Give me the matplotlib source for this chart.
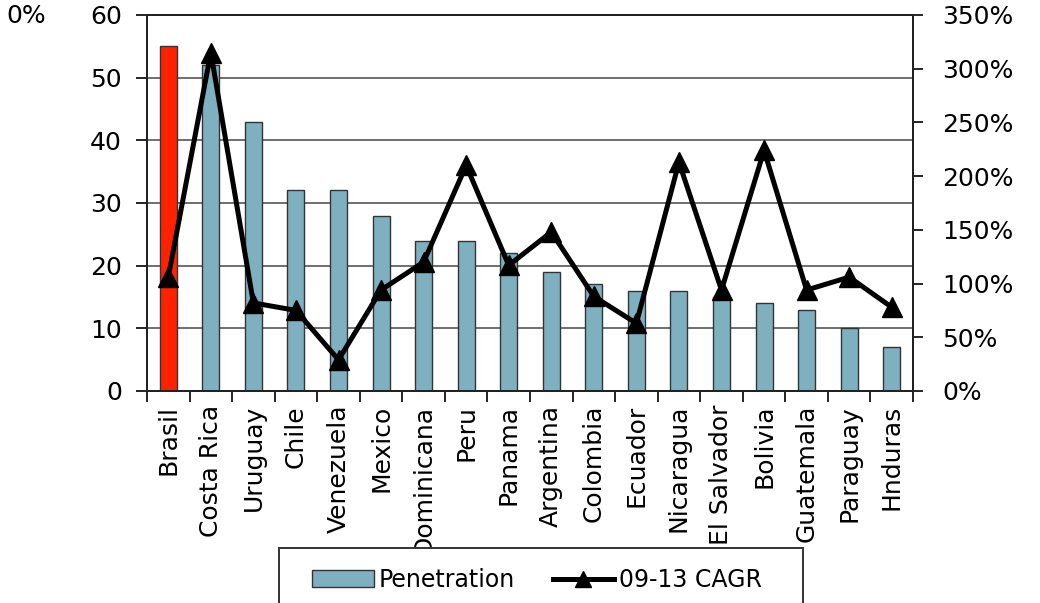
import matplotlib
matplotlib.use("Agg")
import matplotlib.pyplot as plt
from matplotlib.patches import Rectangle
from matplotlib.lines import Line2D
from matplotlib.ticker import FuncFormatter

countries = ["Brasil", "Costa Rica", "Uruguay", "Chile", "Venezuela", "Mexico",
             "Dominicana", "Peru", "Panama", "Argentina", "Colombia", "Ecuador",
             "Nicaragua", "El Salvador", "Bolivia", "Guatemala", "Paraguay", "Hnduras"]
penetration = [55, 52, 43, 32, 32, 28, 24, 24, 22, 19, 17, 16, 16, 15, 14, 13, 10, 7]
cagr = [106, 315, 82, 75, 29, 94, 120, 210, 117, 148, 88, 63, 213, 94, 224, 94, 106, 78]

plt.rcParams["font.family"] = ["DejaVu Sans"]

fig = plt.figure(figsize=(10.4, 6.03), dpi=100)
ax = fig.add_axes([147 / 1040, 1 - 391 / 603, (913 - 147) / 1040, (391 - 15) / 603])

x = list(range(len(countries)))
colors = ["#FF2200"] + ["#7FB0BF"] * (len(countries) - 1)
ax.bar(x, penetration, width=0.4, color=colors, edgecolor="#333333", linewidth=1.0, zorder=2)

ax.set_xlim(-0.5, len(countries) - 0.5)
ax.set_ylim(0, 60)
ax.set_yticks(range(0, 61, 10))
ax.yaxis.grid(True, color="#6e6e6e", linewidth=1.4, zorder=0)
ax.set_axisbelow(True)
ax.tick_params(axis="y", labelsize=18, direction="out", length=8, width=1.2, pad=10)
ax.set_xticks(x)
ax.set_xticklabels(countries, rotation=90, fontsize=18)
ax.tick_params(axis="x", length=0, pad=10)
ax.set_xticks([i + 0.5 for i in range(-1, len(countries))], minor=True)
ax.tick_params(axis="x", which="minor", direction="out", length=8, width=1.2)
for side in ["left", "right", "top", "bottom"]:
    ax.spines[side].set_linewidth(1.4)
    ax.spines[side].set_color("#222222")

ax2 = ax.twinx()
ax2.plot(x, cagr, color="black", linewidth=3.6, marker="^", markersize=14, zorder=5)
ax2.set_ylim(0, 350)
ax2.set_yticks(range(0, 351, 50))
ax2.yaxis.set_major_formatter(FuncFormatter(lambda v, p: f"{int(v)}%"))
ax2.tick_params(axis="y", labelsize=18, direction="out", length=7, width=1.2, pad=14)
for side in ["left", "right", "top", "bottom"]:
    ax2.spines[side].set_linewidth(1.4)
    ax2.spines[side].set_color("#222222")

fig.text(6 / 1040, 1 - 16 / 603, "0%", fontsize=18, ha="left", va="center")

# legend box at the bottom, partly running off the canvas
frame = Rectangle((279 / 1040, -0.05), (803 - 279) / 1040, 0.05 + 1 - 548 / 603,
                  transform=fig.transFigure, facecolor="white", edgecolor="#333333",
                  linewidth=1.4, zorder=10)
fig.patches.append(frame)
handles = [Rectangle((0, 0), 1, 1, facecolor="#7FB0BF", edgecolor="#333333", linewidth=1.0),
           Line2D([], [], color="black", linewidth=3.6, marker="^", markersize=12)]
leg = fig.legend(handles, ["Penetration", "09-13 CAGR"], loc="center",
                 bbox_to_anchor=(537 / 1040, 1 - 580 / 603), ncol=2, frameon=False,
                 fontsize=17, handlelength=2.6, handletextpad=0.2, columnspacing=1.6)
leg.set_zorder(11)

fig.savefig("out.png", dpi=100)
